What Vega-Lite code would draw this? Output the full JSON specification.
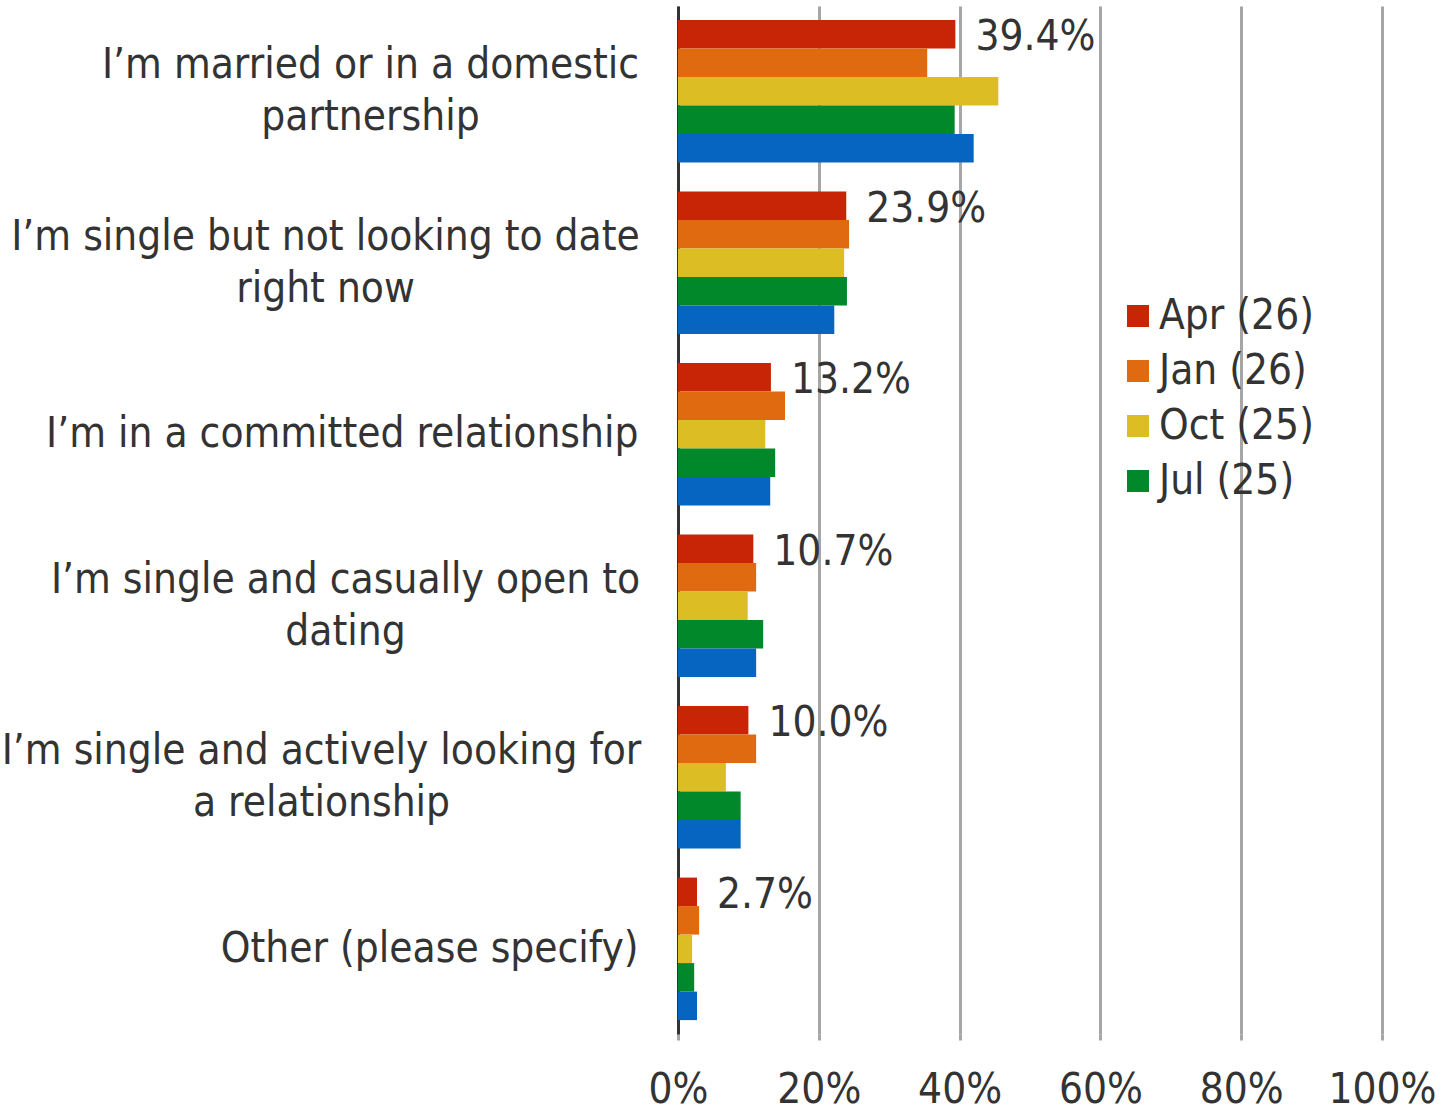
{
  "$schema": "https://vega.github.io/schema/vega-lite/v6.json",
  "width": 704,
  "height": 1028,
  "autosize": {"type": "none"},
  "padding": {"left": 678, "top": 6, "right": 73, "bottom": 77},
  "background": "white",
  "config": {
    "font": "DejaVu Sans Condensed, DejaVu Sans",
    "view": {"stroke": null},
    "axis": {"labelFont": "DejaVu Sans Condensed, DejaVu Sans", "labelColor": "#333333", "labelFontSize": 42, "titleFontSize": 0},
    "legend": {"labelFont": "DejaVu Sans Condensed, DejaVu Sans"}
  },
  "data": {
    "values": [
      {"category": "I’m married or in a domestic partnership", "series": "Apr (26)", "value": 0.394},
      {"category": "I’m married or in a domestic partnership", "series": "Jan (26)", "value": 0.354},
      {"category": "I’m married or in a domestic partnership", "series": "Oct (25)", "value": 0.455},
      {"category": "I’m married or in a domestic partnership", "series": "Jul (25)", "value": 0.393},
      {"category": "I’m married or in a domestic partnership", "series": "Apr (25)", "value": 0.420},
      {"category": "I’m single but not looking to date right now", "series": "Apr (26)", "value": 0.239},
      {"category": "I’m single but not looking to date right now", "series": "Jan (26)", "value": 0.243},
      {"category": "I’m single but not looking to date right now", "series": "Oct (25)", "value": 0.236},
      {"category": "I’m single but not looking to date right now", "series": "Jul (25)", "value": 0.240},
      {"category": "I’m single but not looking to date right now", "series": "Apr (25)", "value": 0.222},
      {"category": "I’m in a committed relationship", "series": "Apr (26)", "value": 0.132},
      {"category": "I’m in a committed relationship", "series": "Jan (26)", "value": 0.152},
      {"category": "I’m in a committed relationship", "series": "Oct (25)", "value": 0.124},
      {"category": "I’m in a committed relationship", "series": "Jul (25)", "value": 0.138},
      {"category": "I’m in a committed relationship", "series": "Apr (25)", "value": 0.131},
      {"category": "I’m single and casually open to dating", "series": "Apr (26)", "value": 0.107},
      {"category": "I’m single and casually open to dating", "series": "Jan (26)", "value": 0.111},
      {"category": "I’m single and casually open to dating", "series": "Oct (25)", "value": 0.099},
      {"category": "I’m single and casually open to dating", "series": "Jul (25)", "value": 0.121},
      {"category": "I’m single and casually open to dating", "series": "Apr (25)", "value": 0.111},
      {"category": "I’m single and actively looking for a relationship", "series": "Apr (26)", "value": 0.100},
      {"category": "I’m single and actively looking for a relationship", "series": "Jan (26)", "value": 0.111},
      {"category": "I’m single and actively looking for a relationship", "series": "Oct (25)", "value": 0.068},
      {"category": "I’m single and actively looking for a relationship", "series": "Jul (25)", "value": 0.089},
      {"category": "I’m single and actively looking for a relationship", "series": "Apr (25)", "value": 0.089},
      {"category": "Other (please specify)", "series": "Apr (26)", "value": 0.027},
      {"category": "Other (please specify)", "series": "Jan (26)", "value": 0.030},
      {"category": "Other (please specify)", "series": "Oct (25)", "value": 0.020},
      {"category": "Other (please specify)", "series": "Jul (25)", "value": 0.023},
      {"category": "Other (please specify)", "series": "Apr (25)", "value": 0.027}
    ]
  },
  "encoding": {
    "y": {
      "field": "category",
      "type": "nominal",
      "sort": null,
      "title": null,
      "scale": {"paddingInner": 0.169, "paddingOuter": 0.081},
      "axis": {
        "ticks": false,
        "domain": true,
        "domainColor": "#333333",
        "domainWidth": 3,
        "labelLimit": 1000,
        "labelLineHeight": 52,
        "labelAlign": {
          "condition": {"test": "datum.value == 'I’m in a committed relationship' || datum.value == 'Other (please specify)'", "value": "right"},
          "value": "center"
        },
        "labelOffset": {
          "condition": {"test": "datum.value == 'I’m in a committed relationship' || datum.value == 'Other (please specify)'", "value": 0},
          "value": -26
        },
        "labelPadding": {
          "condition": [
            {"test": "datum.value == 'I’m married or in a domestic partnership'", "value": 308},
            {"test": "datum.value == 'I’m single but not looking to date right now'", "value": 353},
            {"test": "datum.value == 'I’m single and casually open to dating'", "value": 333},
            {"test": "datum.value == 'I’m single and actively looking for a relationship'", "value": 357}
          ],
          "value": 40
        },
        "labelExpr": "datum.value == 'I’m married or in a domestic partnership' ? ['I’m married or in a domestic', 'partnership'] : datum.value == 'I’m single but not looking to date right now' ? ['I’m single but not looking to date', 'right now'] : datum.value == 'I’m single and casually open to dating' ? ['I’m single and casually open to', 'dating'] : datum.value == 'I’m single and actively looking for a relationship' ? ['I’m single and actively looking for', 'a relationship'] : datum.value"
      }
    },
    "yOffset": {
      "field": "series",
      "type": "nominal",
      "scale": {"domain": ["Apr (26)", "Jan (26)", "Oct (25)", "Jul (25)", "Apr (25)"], "paddingInner": 0, "paddingOuter": 0}
    },
    "x": {
      "field": "value",
      "type": "quantitative",
      "title": null,
      "scale": {"domain": [0, 1], "nice": false},
      "axis": {
        "values": [0, 0.2, 0.4, 0.6, 0.8, 1],
        "format": ".0%",
        "domain": false,
        "ticks": true,
        "tickSize": 6,
        "tickColor": "#A6A6A6",
        "tickWidth": 3,
        "labelPadding": 29,
        "grid": true,
        "gridColor": "#A6A6A6",
        "gridWidth": 3,
        "labelFlush": false
      }
    }
  },
  "layer": [
    {
      "mark": {"type": "bar"},
      "encoding": {
        "color": {
          "field": "series",
          "type": "nominal",
          "title": null,
          "scale": {
            "domain": ["Apr (26)", "Jan (26)", "Oct (25)", "Jul (25)", "Apr (25)"],
            "range": ["#C82506", "#DF6A10", "#DCBD23", "#00882B", "#0565C0"]
          },
          "legend": {
            "values": ["Apr (26)", "Jan (26)", "Oct (25)", "Jul (25)"],
            "orient": "none",
            "legendX": 439,
            "legendY": 289,
            "symbolType": "square",
            "symbolSize": 484,
            "symbolStrokeWidth": 0,
            "labelFontSize": 42,
            "labelColor": "#333333",
            "labelOffset": 0,
            "rowPadding": 13,
            "labelLimit": 400
          }
        }
      }
    },
    {
      "transform": [{"filter": "datum.series == 'Apr (26)'"}],
      "mark": {"type": "text", "align": "left", "baseline": "middle", "dx": 20, "dy": 3, "fontSize": 42, "color": "#333333"},
      "encoding": {
        "text": {"field": "value", "type": "quantitative", "format": ".1%"}
      }
    }
  ]
}
